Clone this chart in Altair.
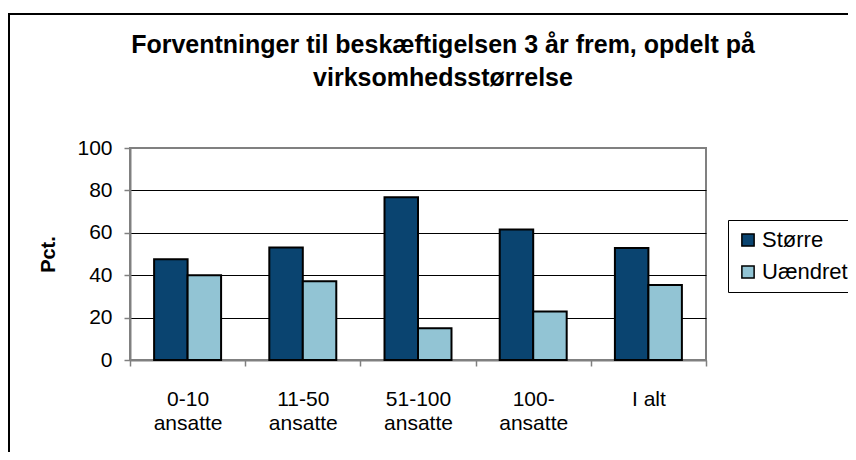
import altair as alt
import pandas as pd

categories = ["0-10 ansatte", "11-50 ansatte", "51-100 ansatte", "100- ansatte", "I alt"]
series = ["Større", "Uændret"]
storre = [47.5, 53.1, 76.8, 61.6, 52.8]
uaendret = [40.0, 37.1, 15.0, 22.9, 35.4]
y_ticks = [0, 20, 40, 60, 80, 100]
title_lines = ["Forventninger til beskæftigelsen 3 år frem, opdelt på", "virksomhedsstørrelse"]
y_title = "Pct."
colors = ["#0A4470", "#92C4D4"]

rows = []
for c, a, b in zip(categories, storre, uaendret):
    rows.append({"kategori": c, "serie": series[0], "vaerdi": a})
    rows.append({"kategori": c, "serie": series[1], "vaerdi": b})
df = pd.DataFrame(rows)

FONT = "Liberation Sans"
W, H = 576, 212
PL, PT = 122, 140

bars = alt.Chart(df).mark_bar(stroke="black", strokeWidth=2).encode(
    x=alt.X(
        "kategori:N",
        sort=categories,
        scale=alt.Scale(paddingInner=0, paddingOuter=0),
        axis=alt.Axis(
            title=None,
            labelAngle=0,
            tickBand="extent",
            labelExpr="datum.label == 'I alt' ? datum.label : split(datum.label, ' ')",
            labelFont=FONT,
            labelFontSize=21,
            labelColor="black",
            labelLineHeight=24,
            labelPadding=22,
            labelBaseline="top",
            domainColor="#808080",
            domainWidth=2,
            tickColor="#808080",
            tickWidth=1.5,
            tickSize=6,
        ),
    ),
    xOffset=alt.XOffset("serie:N", sort=series,
                        scale=alt.Scale(paddingInner=0, paddingOuter=0.72)),
    y=alt.Y(
        "vaerdi:Q",
        scale=alt.Scale(domain=[0, 100], nice=False),
        axis=alt.Axis(
            values=y_ticks,
            title=y_title,
            titleFont=FONT,
            titleFontSize=20,
            titleFontWeight="bold",
            titleColor="black",
            titlePadding=18,
            labelFont=FONT,
            labelFontSize=21,
            labelColor="black",
            labelPadding=12,
            domainColor="#808080",
            domainWidth=2,
            tickColor="#808080",
            tickWidth=1.5,
            tickSize=6,
            grid=True,
            gridColor="black",
            gridWidth=1,
            gridOpacity={"condition": {"test": "datum.value == 0 || datum.value == 100", "value": 0}, "value": 1},
        ),
    ),
    color=alt.Color(
        "serie:N",
        sort=series,
        scale=alt.Scale(domain=series, range=colors),
        legend=alt.Legend(
            title=None,
            orient="none",
            legendX=598,
            legendY=72,
            fillColor="white",
            strokeColor="black",
            padding=9,
            symbolType="square",
            symbolSize=150,
            symbolStrokeColor="black",
            symbolStrokeWidth=1.5,
            symbolOpacity=1,
            labelFont=FONT,
            labelFontSize=22,
            labelColor="black",
            labelOffset=3,
            rowPadding=10,
        ),
    ),
)

frame_df = pd.DataFrame({"k": [0]})
frame = alt.Chart(frame_df).mark_rect(fill="transparent", stroke="black", strokeWidth=2).encode(
    x=alt.value(9 - 130), x2=alt.value(W + 300), y=alt.value(14 - 148), y2=alt.value(H + 300)
)

chart = alt.layer(frame, bars).properties(
    width=W,
    height=H,
    padding={"left": PL, "top": PT, "right": 840 - PL - W, "bottom": 444 - PT - H},
    autosize=alt.AutoSizeParams(type="none"),
    title=alt.TitleParams(
        text=title_lines,
        font=FONT,
        fontSize=25,
        fontWeight="bold",
        color="black",
        anchor="middle",
        baseline="bottom",
        dx=25,
        dy=103,
        offset=0,
        lineHeight=33,
    ),
).configure_view(stroke="#808080", strokeWidth=2)

chart.save("out.html", embed_options={"renderer": "svg", "actions": False})
